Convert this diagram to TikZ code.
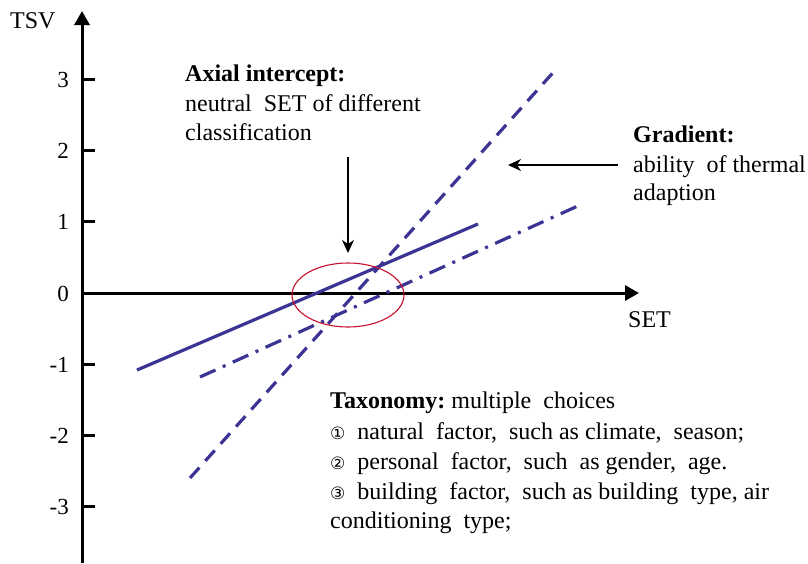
\documentclass[tikz,border=0pt]{standalone}
\usepackage{fontspec}
\setmainfont{Liberation Serif}
\newfontfamily\circfont{DejaVu Sans}
\usetikzlibrary{arrows.meta,shapes.geometric}
\definecolor{lineblue}{HTML}{3B3494}
\definecolor{ellred}{HTML}{C8102E}
\begin{document}
\begin{tikzpicture}[x=1pt,y=-1pt,
  txt/.style={font=\fontsize{24}{29}\selectfont, inner sep=0pt, anchor=base west},
  num/.style={font=\fontsize{23}{28}\selectfont, inner sep=0pt, anchor=base east},
  axisline/.style={line width=3pt, -{Triangle[length=14pt,width=15pt]}},
  tickline/.style={line width=3pt},
  dataline/.style={line width=3.2pt, color=lineblue},
  pointer/.style={line width=1.3pt, -{Stealth[length=13pt,width=12pt,inset=4pt]}},
  circfnt/.style={}]
\useasboundingbox (0,0) rectangle (808,563);
% axes
\coordinate (ybot) at (82,563);
\coordinate (ytop) at (82,11);
\coordinate (xstart) at (80.5,293);
\coordinate (xend) at (639,293);
\draw[axisline] (ybot) -- (ytop);
\draw[axisline] (xstart) -- (xend);
\node[txt] (tsv) at (10,28) {TSV};
\node[txt] (setlbl) at (628,327) {SET};
% ticks
\foreach \v/\lab in {3/3,2/2,1/1,0/0,-1/-1,-2/-2,-3/-3}{
  \pgfmathsetmacro{\yy}{293-71.2*\v}
  \ifnum\v=0\else
    \coordinate (t\v a) at (82,\yy);
    \coordinate (t\v b) at (95,\yy);
    \draw[tickline] (t\v a) -- (t\v b);
  \fi
  \node[num] (n\v) at (69,\yy+8) {\lab};
}
% data lines
\coordinate (s1) at (137,370);
\coordinate (s2) at (478,224);
\draw[dataline] (s1) -- (s2);
\coordinate (d1) at (190,478);
\coordinate (d2) at (558,67);
\draw[dataline, dash pattern=on 14pt off 9pt] (d1) -- (d2);
\coordinate (c1) at (200,377);
\coordinate (c2) at (580,205);
\draw[dataline, dash pattern=on 17pt off 8pt on 3pt off 8pt] (c1) -- (c2);
% ellipse
\node[ellipse, draw=ellred, line width=1.1pt, minimum width=112pt, minimum height=64pt, inner sep=0pt] (ell) at (348,295) {};
% axial intercept
\node[txt, font=\bfseries\fontsize{24}{29}\selectfont] (ax1) at (185,81) {Axial intercept:};
\node[txt] (ax2) at (185,111) {neutral\ \ SET of different};
\node[txt] (ax3) at (185,140) {classification};
\coordinate (axtail) at (348,157);
\coordinate (axtip) at (348,253);
\draw[pointer] (axtail) -- (axtip);
% gradient
\node[txt, font=\bfseries\fontsize{24}{29}\selectfont] (g1) at (633,142) {Gradient:};
\node[txt] (g2) at (633,172) {ability\ \ of thermal};
\node[txt] (g3) at (633,200) {adaption};
\coordinate (gtail) at (618,165);
\coordinate (gtip) at (508,165);
\draw[pointer] (gtail) -- (gtip);
% taxonomy
\node[txt] (x1) at (330,408) {\textbf{Taxonomy:}\ multiple\ \ choices};
\node[txt] (x2) at (330,439) {{\circfont\fontsize{17}{19}\selectfont ①}\ \ natural\ \ factor,\ \ such as climate,\ \ season;};
\node[txt] (x3) at (330,469) {{\circfont\fontsize{17}{19}\selectfont ②}\ \ personal\ \ factor,\ \ such\ \ as gender,\ \ age.};
\node[txt] (x4) at (330,499) {{\circfont\fontsize{17}{19}\selectfont ③}\ \ building\ \ factor,\ \ such as building\ \ type, air};
\node[txt] (x5) at (330,528) {conditioning\ \ type;};
\end{tikzpicture}
\end{document}
